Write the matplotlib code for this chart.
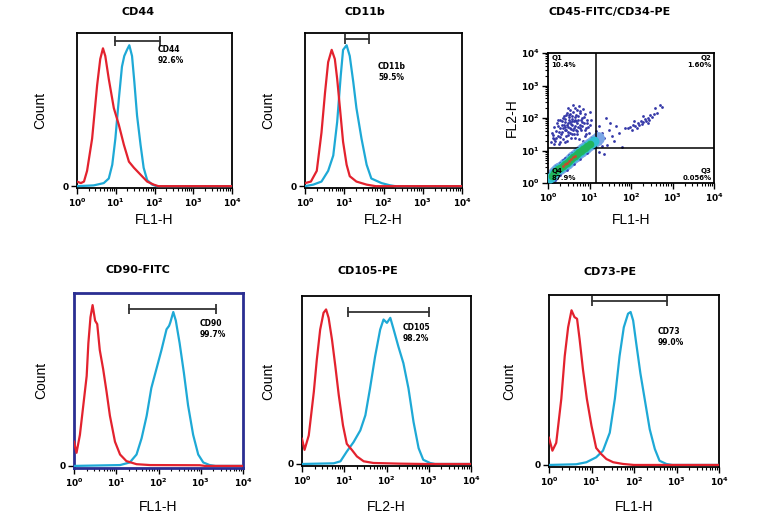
import numpy as np
import matplotlib.pyplot as plt
from matplotlib.ticker import LogLocator, NullFormatter

# colours of the overlay histograms
RED = '#e3222e'
CYAN = '#1ea9d6'

# ---- histogram data: log10(fluorescence) vs relative count (0..1) ----
# CD44 (FL1-H)
cd44_red_x = [0.0, 0.10, 0.18, 0.26, 0.39, 0.52, 0.60, 0.67, 0.73, 0.82, 0.95, 1.08, 1.21, 1.34, 1.47, 1.64, 1.81, 1.98, 2.1, 4.0]
cd44_red_y = [0.03, 0.02, 0.03, 0.10, 0.31, 0.66, 0.83, 0.90, 0.85, 0.70, 0.51, 0.40, 0.27, 0.16, 0.12, 0.075, 0.03, 0.01, 0.0, 0.0]
cd44_blue_x = [0.0, 0.43, 0.69, 0.82, 0.91, 0.99, 1.08, 1.16, 1.22, 1.29, 1.35, 1.42, 1.48, 1.55, 1.64, 1.72, 1.81, 1.94, 2.05, 4.0]
cd44_blue_y = [0.0, 0.005, 0.02, 0.05, 0.14, 0.31, 0.57, 0.78, 0.85, 0.89, 0.92, 0.85, 0.68, 0.46, 0.27, 0.12, 0.04, 0.01, 0.0, 0.0]

# CD11b (FL2-H)
cd11b_red_x = [0.0, 0.15, 0.30, 0.42, 0.51, 0.59, 0.68, 0.76, 0.82, 0.89, 0.97, 1.06, 1.14, 1.31, 1.57, 1.8, 4.0]
cd11b_red_y = [0.02, 0.03, 0.10, 0.35, 0.61, 0.81, 0.89, 0.83, 0.70, 0.51, 0.29, 0.14, 0.065, 0.03, 0.01, 0.0, 0.0]
cd11b_blue_x = [0.0, 0.21, 0.42, 0.59, 0.72, 0.82, 0.91, 0.97, 1.06, 1.14, 1.23, 1.31, 1.44, 1.57, 1.69, 1.82, 1.95, 2.16, 2.3, 4.0]
cd11b_blue_y = [0.0, 0.01, 0.03, 0.10, 0.20, 0.42, 0.72, 0.89, 0.92, 0.85, 0.68, 0.51, 0.31, 0.14, 0.05, 0.035, 0.02, 0.006, 0.0, 0.0]

# CD90-FITC (FL1-H)
cd90_red_x = [0.0, 0.06, 0.14, 0.22, 0.30, 0.34, 0.39, 0.44, 0.50, 0.55, 0.61, 0.69, 0.77, 0.85, 0.97, 1.09, 1.24, 1.48, 1.80, 2.98, 3.1, 4.0]
cd90_red_y = [0.14, 0.076, 0.18, 0.35, 0.52, 0.71, 0.86, 0.93, 0.84, 0.82, 0.67, 0.56, 0.43, 0.29, 0.14, 0.066, 0.028, 0.01, 0.005, 0.004, 0.0, 0.0]
cd90_blue_x = [0.0, 1.09, 1.32, 1.48, 1.60, 1.72, 1.83, 1.95, 2.07, 2.19, 2.25, 2.28, 2.35, 2.41, 2.50, 2.60, 2.70, 2.82, 2.94, 3.06, 3.21, 3.35, 4.0]
cd90_blue_y = [0.0, 0.005, 0.02, 0.066, 0.16, 0.29, 0.45, 0.56, 0.67, 0.79, 0.81, 0.83, 0.89, 0.84, 0.71, 0.54, 0.35, 0.18, 0.066, 0.02, 0.005, 0.0, 0.0]

# CD105-PE (FL2-H)
cd105_red_x = [0.0, 0.06, 0.16, 0.28, 0.35, 0.43, 0.51, 0.57, 0.63, 0.71, 0.79, 0.87, 0.97, 1.06, 1.18, 1.30, 1.46, 1.69, 2.32, 2.9, 4.0]
cd105_red_y = [0.15, 0.084, 0.17, 0.43, 0.62, 0.80, 0.90, 0.92, 0.87, 0.74, 0.58, 0.41, 0.23, 0.12, 0.084, 0.045, 0.016, 0.006, 0.002, 0.0, 0.0]
cd105_blue_x = [0.0, 0.75, 0.91, 1.06, 1.22, 1.38, 1.50, 1.61, 1.73, 1.85, 1.93, 2.01, 2.09, 2.17, 2.28, 2.40, 2.52, 2.64, 2.76, 2.87, 3.03, 3.15, 4.0]
cd105_blue_y = [0.0, 0.004, 0.016, 0.074, 0.13, 0.20, 0.29, 0.45, 0.64, 0.80, 0.86, 0.84, 0.87, 0.80, 0.70, 0.60, 0.45, 0.25, 0.094, 0.025, 0.006, 0.0, 0.0]

# CD73-PE (FL1-H)
cd73_red_x = [0.0, 0.08, 0.17, 0.29, 0.37, 0.45, 0.53, 0.60, 0.66, 0.72, 0.80, 0.89, 1.00, 1.11, 1.23, 1.35, 1.51, 1.74, 2.0, 4.0]
cd73_red_y = [0.16, 0.084, 0.13, 0.39, 0.64, 0.81, 0.91, 0.87, 0.86, 0.74, 0.56, 0.39, 0.23, 0.10, 0.064, 0.035, 0.016, 0.006, 0.0, 0.0]
cd73_blue_x = [0.0, 0.64, 0.88, 1.11, 1.27, 1.43, 1.55, 1.66, 1.76, 1.86, 1.92, 1.98, 2.05, 2.15, 2.25, 2.37, 2.49, 2.60, 2.76, 2.9, 4.0]
cd73_blue_y = [0.0, 0.004, 0.016, 0.045, 0.084, 0.19, 0.39, 0.64, 0.81, 0.89, 0.90, 0.85, 0.72, 0.54, 0.39, 0.21, 0.094, 0.025, 0.006, 0.0, 0.0]

# gates: (start, end) in log10, bar height, label, label position (log10 x, y)
cd44_gate = (0.99, 2.14, 0.95, 'CD44\n92.6%', 2.09, 0.92)
cd11b_gate = (1.02, 1.62, 0.96, 'CD11b\n59.5%', 1.86, 0.81)
cd90_gate = (1.31, 3.37, 0.905, 'CD90\n99.7%', 2.98, 0.85)
cd105_gate = (1.08, 3.01, 0.906, 'CD105\n98.2%', 2.39, 0.84)
cd73_gate = (1.01, 2.78, 0.965, 'CD73\n99.0%', 2.56, 0.81)

# ---- dot plot CD45-FITC / CD34-PE (log10 FL1-H, log10 FL2-H) ----
q1_x = [0.08, 0.10, 0.12, 0.15, 0.18, 0.20, 0.22, 0.24, 0.26, 0.28, 0.30, 0.32, 0.34, 0.36, 0.38,
        0.40, 0.42, 0.44, 0.46, 0.48, 0.50, 0.52, 0.54, 0.56, 0.58, 0.60, 0.62, 0.64, 0.66, 0.68,
        0.70, 0.72, 0.74, 0.76, 0.78, 0.80, 0.82, 0.84, 0.86, 0.88, 0.90, 0.92, 0.95, 0.98, 1.02,
        1.05, 0.45, 0.55, 0.35, 0.25, 0.65, 0.75, 0.60, 0.50, 0.40, 0.15, 0.85, 1.00, 0.70, 0.30,
        0.48, 0.53, 0.58, 0.62, 0.44, 0.67, 0.57, 0.47, 0.72, 0.38,
        0.11, 0.19, 0.27, 0.33, 0.37, 0.43, 0.49, 0.51, 0.56, 0.61, 0.63, 0.69, 0.73, 0.77, 0.81,
        0.87, 0.93, 0.97, 1.03, 0.23, 0.29, 0.41, 0.46, 0.52, 0.59, 0.64, 0.71, 0.79, 0.83, 0.89,
        0.14, 0.34, 0.54, 0.68, 0.76, 0.91, 0.49, 0.58, 0.66, 0.42]
q1_y = [1.25, 1.55, 1.40, 1.72, 1.30, 1.60, 1.85, 1.45, 1.20, 1.68, 1.95, 1.52, 1.78, 1.35, 2.05,
        1.62, 1.88, 1.45, 2.15, 1.72, 1.95, 1.55, 2.25, 1.82, 2.05, 1.62, 1.90, 2.30, 1.75, 2.10,
        1.50, 1.95, 2.38, 1.80, 2.15, 1.62, 2.00, 2.28, 1.85, 1.45, 2.12, 1.70, 1.95, 1.55, 1.80,
        1.40, 1.30, 1.40, 2.00, 1.95, 1.40, 1.35, 2.40, 2.10, 1.25, 1.20, 1.30, 2.20, 2.25, 1.25,
        1.85, 1.68, 1.78, 1.70, 1.62, 1.92, 1.98, 1.58, 1.72, 1.80,
        1.48, 1.38, 1.58, 1.90, 1.70, 2.10, 1.48, 2.02, 1.65, 2.18, 1.52, 1.85, 2.05, 1.68, 1.88,
        2.02, 1.85, 1.72, 1.95, 1.75, 1.42, 1.98, 1.78, 1.88, 1.52, 1.95, 1.60, 1.95, 1.75, 1.62,
        1.35, 1.58, 2.12, 1.62, 2.22, 1.50, 2.30, 1.92, 2.02, 1.72]
mid_x = [1.05, 1.18, 1.25, 1.30, 1.35, 1.42, 1.48, 1.55, 1.60, 1.65, 1.72, 1.78, 1.40, 1.22, 1.85,
         1.30, 1.50, 1.15, 1.22, 1.35]
mid_y = [1.28, 1.35, 1.22, 1.55, 1.40, 1.18, 1.62, 1.45, 1.30, 1.75, 1.55, 1.12, 2.00, 1.75, 1.68,
         1.15, 1.85, 1.60, 0.95, 0.90]
q2_x = [1.92, 1.98, 2.02, 2.06, 2.10, 2.14, 2.18, 2.20, 2.24, 2.26, 2.30, 2.33, 2.36, 2.40, 2.43,
        2.46, 2.50, 2.55, 2.58, 2.62, 2.70, 2.75, 2.08, 2.28, 2.40]
q2_y = [1.68, 1.72, 1.62, 1.80, 1.75, 1.70, 1.85, 1.78, 1.92, 1.82, 1.88, 1.98, 1.90, 2.00, 1.95,
        2.08, 2.02, 2.12, 2.30, 2.15, 2.40, 2.35, 1.90, 2.05, 1.85]
band_x = [0.02, 0.05, 0.10, 0.15, 0.20, 0.25, 0.30, 0.35, 0.40, 0.45, 0.50, 0.55, 0.60, 0.65,
          0.70, 0.75, 0.80, 0.85, 0.90, 0.95, 1.00, 1.05, 1.10, 1.15, 1.20]
band_y = [0.06, 0.15, 0.22, 0.30, 0.36, 0.42, 0.47, 0.53, 0.58, 0.63, 0.68, 0.73, 0.79, 0.84,
          0.89, 0.94, 0.99, 1.04, 1.09, 1.14, 1.19, 1.24, 1.29, 1.33, 1.38]
edge_x = [0.05, 0.12, 0.20, 0.28, 0.35, 0.42, 0.50, 0.58, 0.66, 0.74, 0.82, 0.90, 0.98, 1.06,
          0.10, 0.18, 0.30, 0.45, 0.62, 0.78, 0.95, 1.12]
edge_y = [0.32, 0.40, 0.52, 0.62, 0.70, 0.78, 0.86, 0.93, 1.00, 1.08, 1.15, 1.24, 1.30, 1.38,
          0.02, 0.08, 0.25, 0.40, 0.58, 0.74, 0.92, 1.10]
quad_x, quad_y = 1.15, 1.08
quad_labels = ['Q1\n10.4%', 'Q2\n1.60%', 'Q3\n0.056%', 'Q4\n87.9%']

W, H = 771, 518


def px_rect(x0, y0, x1, y1):
    return [x0 / W, 1 - y1 / H, (x1 - x0) / W, (y1 - y0) / H]


def decade_labels():
    return [r'$\mathbf{10^{%d}}$' % k for k in range(5)]


def style_log_axis(axis):
    axis.set_major_locator(LogLocator(base=10, numticks=10))
    axis.set_minor_locator(LogLocator(base=10, subs=np.arange(2, 10), numticks=20))
    axis.set_minor_formatter(NullFormatter())


def hist_panel(rect, red_x, red_y, blue_x, blue_y, gate, xlabel, lab_xy, frame='black', frame_lw=1.3):
    ax = fig.add_axes(px_rect(*rect))
    ax.plot(10 ** np.array(blue_x), blue_y, color=CYAN, lw=1.6, zorder=3)
    ax.plot(10 ** np.array(red_x), red_y, color=RED, lw=1.6, zorder=4)
    g0, g1, gh, gtxt, tx, ty = gate
    ax.plot([10 ** g0, 10 ** g1], [gh, gh], color='#333333', lw=1.3, marker='|', ms=7, mew=1.3)
    ax.text(10 ** tx, ty, gtxt, fontsize=5.5, fontweight='bold', va='top', ha='left', linespacing=1.3)
    ax.set_xscale('log')
    ax.set_xlim(1, 1e4)
    ax.set_ylim(-0.012, 1.0)
    style_log_axis(ax.xaxis)
    ax.set_xticks([1, 10, 100, 1000, 10000])
    ax.set_xticklabels(decade_labels(), fontsize=6.5)
    ax.set_yticks([0])
    ax.set_yticklabels(['0'], fontsize=6.5, fontweight='bold')
    ax.tick_params(axis='x', which='major', direction='out', length=4, width=1, pad=2)
    ax.tick_params(axis='x', which='minor', direction='out', length=2, width=0.8)
    ax.tick_params(axis='y', direction='out', length=4, width=1, pad=2)
    for s in ax.spines.values():
        s.set_color(frame)
        s.set_linewidth(frame_lw)
    ax.set_xlabel(xlabel, fontsize=10, family='Liberation Sans')
    ax.set_ylabel('Count', fontsize=10, family='Liberation Sans')
    ax.xaxis.set_label_coords(0.5, lab_xy[1])
    ax.yaxis.set_label_coords(lab_xy[0], 0.5)
    return ax


fig = plt.figure(figsize=(7.71, 5.18), dpi=100)

hist_panel((77, 33, 232, 188), cd44_red_x, cd44_red_y, cd44_blue_x, cd44_blue_y, cd44_gate,
           'FL1-H', (-0.19, -0.16))
hist_panel((305, 33, 462, 188), cd11b_red_x, cd11b_red_y, cd11b_blue_x, cd11b_blue_y, cd11b_gate,
           'FL2-H', (-0.19, -0.16))
hist_panel((74, 293, 243, 468), cd90_red_x, cd90_red_y, cd90_blue_x, cd90_blue_y, cd90_gate,
           'FL1-H', (-0.15, -0.183), frame='#2a2e92', frame_lw=2.0)
hist_panel((302, 296, 471, 466), cd105_red_x, cd105_red_y, cd105_blue_x, cd105_blue_y, cd105_gate,
           'FL2-H', (-0.16, -0.20))
hist_panel((549, 295, 719, 467), cd73_red_x, cd73_red_y, cd73_blue_x, cd73_blue_y, cd73_gate,
           'FL1-H', (-0.19, -0.19))

# dot plot
ax = fig.add_axes(px_rect(548, 53, 714, 183))
bx, by = 10 ** np.array(band_x), 10 ** np.array(band_y)
ax.scatter(bx, by, s=85, color='#7aa6e6', lw=0, zorder=2)
ax.scatter(10 ** np.array(edge_x), 10 ** np.array(edge_y), s=4, color='#3b3fb0', lw=0, zorder=2)
ax.scatter(bx[1:-2], by[1:-2], s=50, color='#2fc0d2', lw=0, zorder=3)
ax.scatter(bx[2:-4], by[2:-4], s=30, color='#22b45c', lw=0, zorder=4)
ax.scatter(bx[7:14], by[7:14], s=4, color='#d0452a', lw=0, zorder=5)
ax.scatter(10 ** np.array(q1_x), 10 ** np.array(q1_y), s=4, color='#3438a8', lw=0)
ax.scatter(10 ** np.array(mid_x), 10 ** np.array(mid_y), s=4, color='#3438a8', lw=0)
ax.scatter(10 ** np.array(q2_x), 10 ** np.array(q2_y), s=4, color='#3438a8', lw=0)
ax.axvline(10 ** quad_x, color='black', lw=1.1)
ax.axhline(10 ** quad_y, color='black', lw=1.1)
qkw = dict(fontsize=5, fontweight='bold', linespacing=1.2, zorder=8)
ax.text(10 ** 0.08, 10 ** 3.95, quad_labels[0], va='top', ha='left', **qkw)
ax.text(10 ** 3.94, 10 ** 3.95, quad_labels[1], va='top', ha='right', **qkw)
ax.text(10 ** 3.94, 10 ** 0.05, quad_labels[2], va='bottom', ha='right', **qkw)
ax.text(10 ** 0.08, 10 ** 0.05, quad_labels[3], va='bottom', ha='left', **qkw)
ax.set_xscale('log')
ax.set_yscale('log')
ax.set_xlim(1, 1e4)
ax.set_ylim(1, 1e4)
for axis in (ax.xaxis, ax.yaxis):
    style_log_axis(axis)
ax.set_xticks([1, 10, 100, 1000, 10000])
ax.set_xticklabels(decade_labels(), fontsize=6.5)
ax.set_yticks([1, 10, 100, 1000, 10000])
ax.set_yticklabels(decade_labels(), fontsize=6.5)
ax.tick_params(which='major', direction='out', length=4, width=1, pad=2)
ax.tick_params(which='minor', direction='out', length=2, width=0.8)
for s in ax.spines.values():
    s.set_linewidth(1.3)
ax.set_xlabel('FL1-H', fontsize=10, family='Liberation Sans')
ax.set_ylabel('FL2-H', fontsize=10, family='Liberation Sans')
ax.xaxis.set_label_coords(0.5, -0.23)
ax.yaxis.set_label_coords(-0.175, 0.5)

# panel titles
tkw = dict(fontsize=8, fontweight='bold', ha='center', va='center')
fig.text(138 / W, 1 - 12 / H, 'CD44', **tkw)
fig.text(365 / W, 1 - 12 / H, 'CD11b', **tkw)
fig.text(610 / W, 1 - 12 / H, 'CD45-FITC/CD34-PE', **tkw)
fig.text(138 / W, 1 - 270 / H, 'CD90-FITC', **tkw)
fig.text(368 / W, 1 - 271 / H, 'CD105-PE', **tkw)
fig.text(610 / W, 1 - 272 / H, 'CD73-PE', **tkw)

fig.savefig('out.png', dpi=100)
